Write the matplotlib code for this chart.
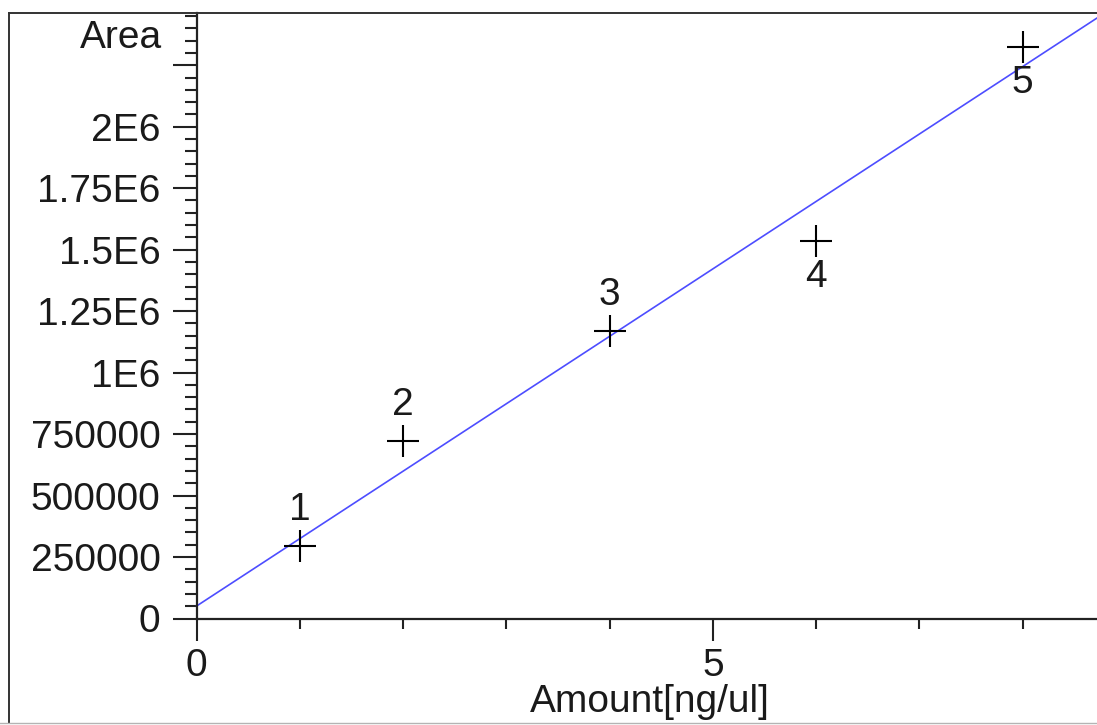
import matplotlib
matplotlib.use("Agg")
import matplotlib.pyplot as plt
from matplotlib.lines import Line2D
from matplotlib.ticker import FixedLocator, MultipleLocator

# calibration points
amount = [1, 2, 4, 6, 8]
area = [296000, 722000, 1169000, 1535000, 2325000]
point_labels = ["1", "2", "3", "4", "5"]
label_above = [True, True, True, False, False]

# fitted line
fit_intercept = 51000
fit_slope = 274200

y_ticks = [0, 250000, 500000, 750000, 1000000, 1250000, 1500000, 1750000, 2000000, 2250000]
y_ticklabels = ["0", "250000", "500000", "750000", "1E6", "1.25E6", "1.5E6", "1.75E6", "2E6", ""]
x_ticks = [0, 5]
x_ticklabels = ["0", "5"]

plt.rcParams["font.family"] = ["Liberation Sans", "DejaVu Sans"]
fs = 28
tc = "#1a1a1a"

W, H = 1097, 725
fig = plt.figure(figsize=(W / 100, H / 100), dpi=100)
ax = fig.add_axes([196.7 / W, 1 - 618.5 / H, 1 - 196.7 / W, (618.5 - 13.3) / H])

xmax = (W - 196.7) / 103.25
ymax = (618.5 - 13.3) / 245.9 * 1e6
ax.set_xlim(0, xmax)
ax.set_ylim(0, ymax)

ax.plot([0, xmax], [fit_intercept, fit_intercept + fit_slope * xmax],
        color="#4d4dff", lw=1.2, zorder=2, clip_on=False)
ax.plot(amount, area, ls="none", marker="+", ms=23, mew=1.5, color="black", zorder=3)

for x, y, t, up in zip(amount, area, point_labels, label_above):
    ax.annotate(t, (x, y), xytext=(0, 26 if up else -26), textcoords="offset points",
                ha="center", va="center", fontsize=fs, color=tc)

for s in ["top", "right"]:
    ax.spines[s].set_visible(False)
for s in ["left", "bottom"]:
    ax.spines[s].set_linewidth(1.6)
    ax.spines[s].set_color("#222222")

ax.yaxis.set_major_locator(FixedLocator(y_ticks))
ax.set_yticklabels(y_ticklabels)
ax.yaxis.set_minor_locator(MultipleLocator(50000))
ax.xaxis.set_major_locator(FixedLocator(x_ticks))
ax.set_xticklabels(x_ticklabels)
ax.xaxis.set_minor_locator(MultipleLocator(1))

ax.tick_params(axis="y", which="major", direction="out", length=17, width=1.5,
               pad=9, labelsize=fs, labelcolor=tc, color="#222222")
ax.tick_params(axis="y", which="minor", direction="out", length=8.5, width=1.5, color="#222222")
ax.tick_params(axis="x", which="major", direction="out", length=15.5, width=1.5,
               pad=6, labelsize=fs, labelcolor=tc, color="#222222")
ax.tick_params(axis="x", which="minor", direction="out", length=7, width=1.5, color="#222222")

fig.text(162 / W, 1 - 48.3 / H, "Area", ha="right", va="baseline", fontsize=fs, color=tc)
fig.text(650 / W, 1 - 712 / H, "Amount[ng/ul]", ha="center", va="baseline", fontsize=fs, color=tc)

# outer frame
fig.add_artist(Line2D([9 / W, 9 / W], [1 - 13.3 / H, 1 - 723 / H], color="#333333", lw=1.4))
fig.add_artist(Line2D([9 / W, 1], [1 - 13.3 / H, 1 - 13.3 / H], color="#333333", lw=1.4))
fig.add_artist(Line2D([0, 1], [1 - 723 / H, 1 - 723 / H], color="#b4b4b4", lw=1.0))

fig.savefig("out.png", dpi=100, facecolor="white")
